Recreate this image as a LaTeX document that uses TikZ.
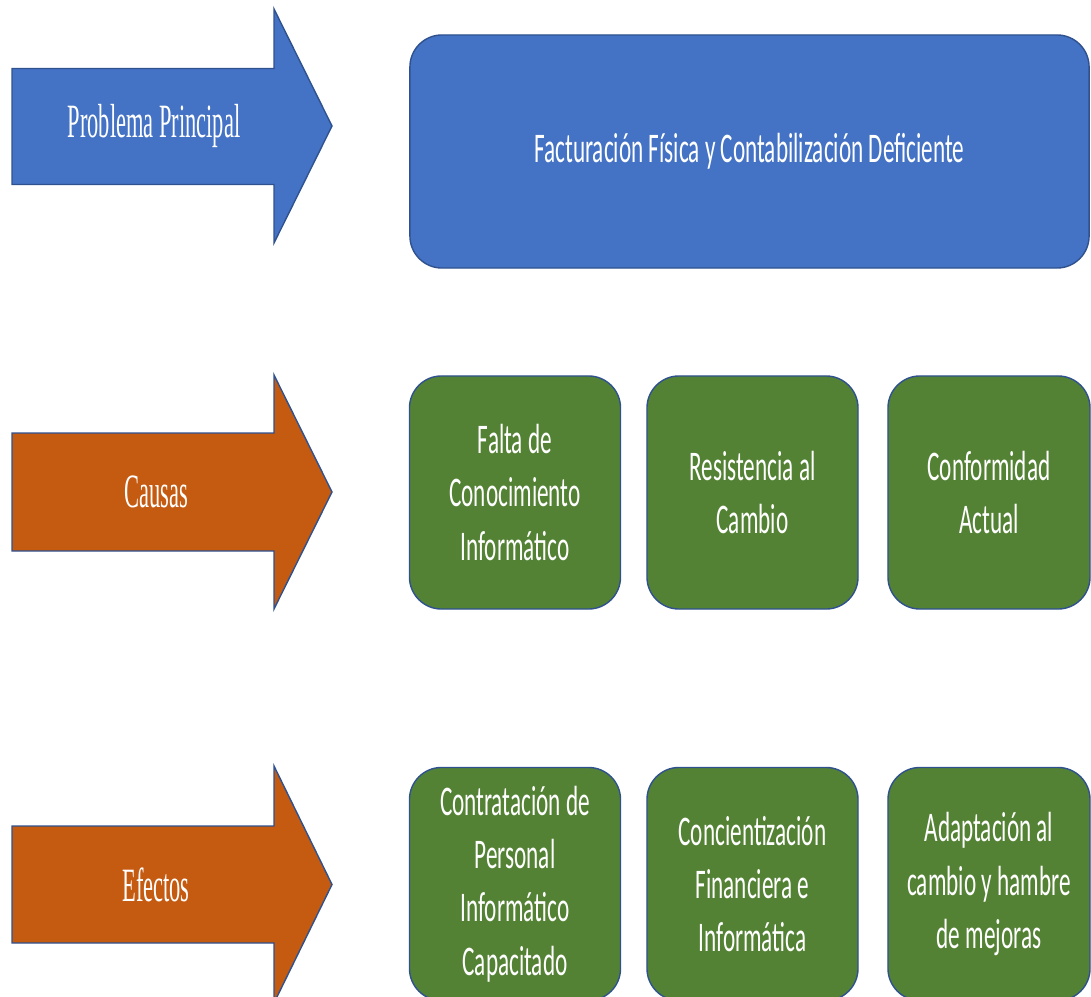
\documentclass[tikz,border=0pt]{standalone}
\usepackage{fontspec}
\newfontfamily\boxfont[FakeStretch=0.55]{Carlito}
\newfontfamily\arrowfont[FakeStretch=0.47]{Liberation Serif}
\definecolor{officeblue}{HTML}{4472C4}
\definecolor{officeorange}{HTML}{C55A11}
\definecolor{officegreen}{HTML}{548235}
\definecolor{officeline}{HTML}{2F528F}
\begin{document}
\begin{tikzpicture}[
			x=0.025cm, y=-0.025cm,
			shape border/.style={draw=officeline, line width=1pt, line join=miter},
			arrow label/.style={text=white, font=\arrowfont\fontsize{34}{38}\selectfont},
			main box/.style={shape border, fill=officeblue, rounded corners=0.8cm,
					minimum width=16.975cm, minimum height=5.825cm,
					text=white, font=\boxfont\fontsize{30}{38}\selectfont},
			item box/.style={shape border, fill=officegreen, rounded corners=0.8cm,
					minimum width=5.275cm, minimum height=5.825cm, align=center,
					text=white, font=\boxfont\fontsize{30}{38}\selectfont},
			last box/.style={item box, minimum width=5.05cm}
		]
		\useasboundingbox (0,0) rectangle (1091,997);
		\clip (0,0) rectangle (1091,997);
		% problema principal
		\draw[shape border, fill=officeblue] (12,68.5) -- (274,68.5) -- (274,9) -- (332,126)
			-- (274,243) -- (274,184.5) -- (12,184.5) -- cycle;
		\node[arrow label] (problema) at (154,126) {Problema Principal};
		\node[main box] (facturacion) at (749.5,151.5) {Facturación Física y Contabilización Deficiente};
		% causas
		\draw[shape border, fill=officeorange] (12,433) -- (274,433) -- (274,375) -- (332,492)
			-- (274,609) -- (274,551) -- (12,551) -- cycle;
		\node[arrow label] (causas) at (156,492) {Causas};
		\node[item box] (falta) at (515,492.5) {Falta de\\Conocimiento\\Informático};
		\node[item box] (resistencia) at (752.5,492.5) {Resistencia al\\Cambio};
		\node[last box] (conformidad) at (989,492.5) {Conformidad\\Actual};
		% efectos
		\draw[shape border, fill=officeorange] (12,826) -- (274,826) -- (274,766) -- (332,884.5)
			-- (274,1003) -- (274,943) -- (12,943) -- cycle;
		\node[arrow label] (efectos) at (156,884.5) {Efectos};
		\node[item box] (contratacion) at (515,884) {Contratación de\\Personal\\Informático\\Capacitado};
		\node[item box] (concientizacion) at (752.5,884) {Concientización\\Financiera e\\Informática};
		\node[last box] (adaptacion) at (989,884) {Adaptación al\\cambio y hambre\\de mejoras};
	\end{tikzpicture}
\end{document}
